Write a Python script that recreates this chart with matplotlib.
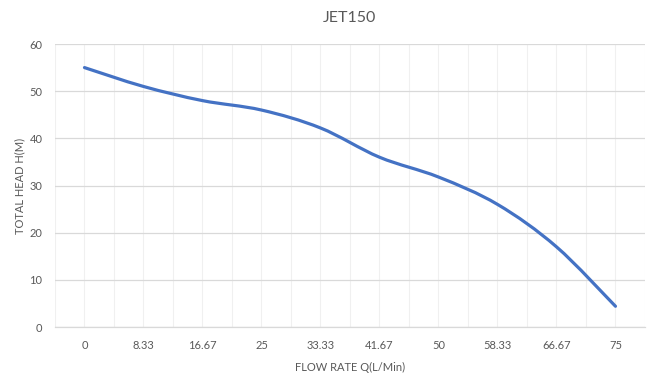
import numpy as np
import matplotlib
matplotlib.use('Agg')
import matplotlib.pyplot as plt
from matplotlib.path import Path
from matplotlib.patches import PathPatch

plt.rcParams['font.family'] = ['Lato', 'DejaVu Sans']

# data
flow_labels = ['0', '8.33', '16.67', '25', '33.33', '41.67', '50', '58.33', '66.67', '75']
head = [55, 51, 48, 46, 42.2, 36, 31.8, 26, 17, 4.4]

text_col = '#595959'
line_col = '#4472C4'


def smooth_path(xs, ys):
    # Excel-like smoothed line: cubic bezier through the points (Catmull-Rom control points)
    pts = np.column_stack([xs, ys]).astype(float)
    n = len(pts)
    verts = [pts[0]]
    codes = [Path.MOVETO]
    for i in range(n - 1):
        p0 = pts[i - 1] if i > 0 else pts[i]
        p1 = pts[i]
        p2 = pts[i + 1]
        p3 = pts[i + 2] if i + 2 < n else pts[i + 1]
        c1 = p1 + (p2 - p0) / 6.0
        c2 = p2 - (p3 - p1) / 6.0
        verts += [c1, c2, p2]
        codes += [Path.CURVE4] * 3
    return Path(verts, codes)


fig = plt.figure(figsize=(6.53, 3.81), dpi=100)
ax = fig.add_axes([0.0842, 0.1417, 0.9035, 0.7428])

x = np.arange(len(flow_labels))
ax.add_patch(PathPatch(smooth_path(x, head), facecolor='none', edgecolor=line_col,
                       lw=2.3, capstyle='round', zorder=3))

ax.set_xlim(-0.5, len(flow_labels) - 0.5)
ax.set_ylim(0, 60)
ax.set_yticks(range(0, 61, 10))
ax.set_xticks(x)
ax.set_xticklabels(flow_labels)
ax.set_xticks(np.arange(-0.5, len(flow_labels), 1.0), minor=True)

ax.grid(axis='y', which='major', color='#D9D9D9', lw=0.9)
ax.grid(axis='x', which='major', color='#F0F0F0', lw=0.8)
ax.grid(axis='x', which='minor', color='#F0F0F0', lw=0.8)
ax.set_axisbelow(True)

for s in ['top', 'right', 'left']:
    ax.spines[s].set_visible(False)
ax.spines['bottom'].set_color('#D9D9D9')
ax.spines['bottom'].set_linewidth(0.9)

ax.tick_params(axis='both', which='both', length=0, labelsize=8, colors=text_col)
ax.tick_params(axis='x', pad=9)
ax.tick_params(axis='y', pad=9)

ax.set_title('JET150', fontsize=11.5, color=text_col, pad=16)
ax.set_xlabel('FLOW RATE Q(L/Min)', fontsize=8, color=text_col, labelpad=8)
ax.set_ylabel('TOTAL HEAD H(M)', fontsize=8, color=text_col, labelpad=3)

fig.savefig('out.png', dpi=100)
